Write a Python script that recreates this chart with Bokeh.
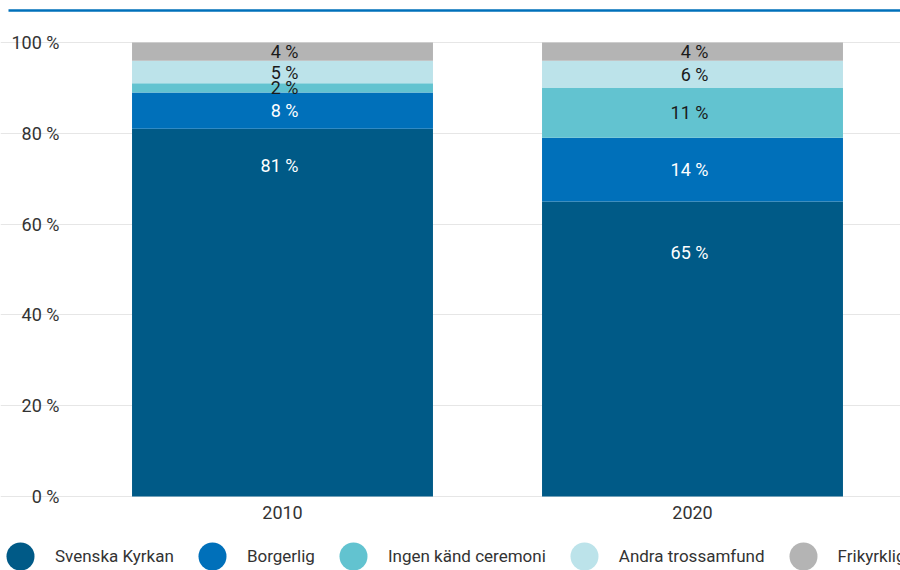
from bokeh.plotting import figure
from bokeh.models import (Legend, LegendItem, PrintfTickFormatter,
                          ColumnDataSource, Range1d, FixedTicker)
from bokeh.core.properties import value
from bokeh.embed import file_html
from bokeh.resources import INLINE

# ---------------- data ----------------
years = ["2010", "2020"]
series = ["Svenska Kyrkan", "Borgerlig", "Ingen känd ceremoni",
          "Andra trossamfund", "Frikyrklig"]
svenska_kyrkan = [81, 65]
borgerlig = [8, 14]
ingen_kand_ceremoni = [2, 11]
andra_trossamfund = [5, 6]
frikyrklig = [4, 4]
y_ticks = [0, 20, 40, 60, 80, 100]

# ---------------- styles / layout ----------------
colors = ["#005a87", "#0070ba", "#62c3d0", "#bce3ea", "#b4b4b4"]
label_colors = ["#ffffff", "#ffffff", "#1a1a1a", "#1a1a1a", "#1a1a1a"]
FONT = "Roboto"
FS = "18px"
LEG_FS = "17px"
TEXT = "#333333"
W, H = 900, 570
PLOT_L, PLOT_R, PLOT_T, PLOT_B = 72, 898, 42, 496   # plot-area pixels
CAT0, CAT_STEP = 282, 410                            # first category centre, step (px)

n = len(years)
x_idx = list(range(n))
px_x = float(CAT_STEP)
px_y = (PLOT_B - PLOT_T) / 100.0
x0 = -CAT0 / px_x
x1 = (W - CAT0) / px_x
y0 = -(H - PLOT_B) / px_y
y1 = 100 + PLOT_T / px_y
xl = (PLOT_L - CAT0) / px_x
xr = (PLOT_R - CAT0) / px_x

values = [svenska_kyrkan, borgerlig, ingen_kand_ceremoni, andra_trossamfund, frikyrklig]
keys = ["s%d" % i for i in range(len(series))]
src = ColumnDataSource(dict(x=x_idx, **{k: v for k, v in zip(keys, values)}))

p = figure(width=W, height=H, toolbar_location=None, output_backend="svg",
           x_range=Range1d(x0, x1), y_range=Range1d(y0, y1),
           min_border=0, outline_line_color=None)

p.vbar_stack(keys, x="x", width=0.734, color=colors, line_color=None, source=src)

# blue rule at the top
p.segment(x0=[x0 + 8 / px_x], x1=[x1], y0=[y1 - 10 / px_y], y1=[y1 - 10 / px_y],
          line_color="#0070ba", line_width=2.5)

# data labels
lx, ly, lt, lc = [], [], [], []
for i in x_idx:
    bottom = 0
    for j, vals in enumerate(values):
        v = vals[i]
        top_v = bottom + v
        if v < 20:
            yl = bottom + v / 2.0
        else:
            yl = 1.2 * top_v - 24.3
        lx.append(i)
        ly.append(yl)
        lt.append("%d %%" % v)
        lc.append(label_colors[j])
        bottom = top_v
lsrc = ColumnDataSource(dict(x=lx, y=ly, t=lt, c=lc))
p.text(x="x", y="y", text="t", text_color="c", source=lsrc, text_align="right",
       text_baseline="middle", x_offset=16, text_font=value(FONT),
       text_font_size=FS)

# axes drawn at fixed positions
p.xaxis.fixed_location = 0
p.yaxis.fixed_location = xl
p.yaxis.ticker = FixedTicker(ticks=y_ticks)
p.yaxis.formatter = PrintfTickFormatter(format="%d %%")
p.xaxis.ticker = FixedTicker(ticks=x_idx)
p.xaxis.major_label_overrides = {i: y for i, y in zip(x_idx, years)}
for ax in (p.xaxis, p.yaxis):
    ax.axis_line_color = None
    ax.major_tick_line_color = None
    ax.minor_tick_line_color = None
    ax.major_tick_out = 0
    ax.major_tick_in = 0
    ax.major_label_text_font = FONT
    ax.major_label_text_font_size = FS
    ax.major_label_text_color = TEXT
p.yaxis.major_label_standoff = 13
p.xaxis.major_label_standoff = 9
p.xgrid.grid_line_color = None
p.ygrid.grid_line_color = "#e6e6e6"
p.ygrid.bounds = (xl, xr)

# legend with circle markers
items = []
for name, k, c in zip(series, keys, colors):
    r = p.scatter(x="x", y=k, source=src, marker="circle", size=0,
                  fill_color=c, line_color=None)
    items.append(LegendItem(label=name, renderers=[r]))
legend = Legend(items=items, orientation="horizontal", location=(-15, -21),
                glyph_width=70, glyph_height=70, label_standoff=0, spacing=3,
                padding=0, margin=0, border_line_color=None,
                background_fill_alpha=0, label_text_font=FONT,
                label_text_font_size=LEG_FS, label_text_color=TEXT)
p.add_layout(legend, "center")

open("out.html", "w").write(file_html(p, INLINE))
